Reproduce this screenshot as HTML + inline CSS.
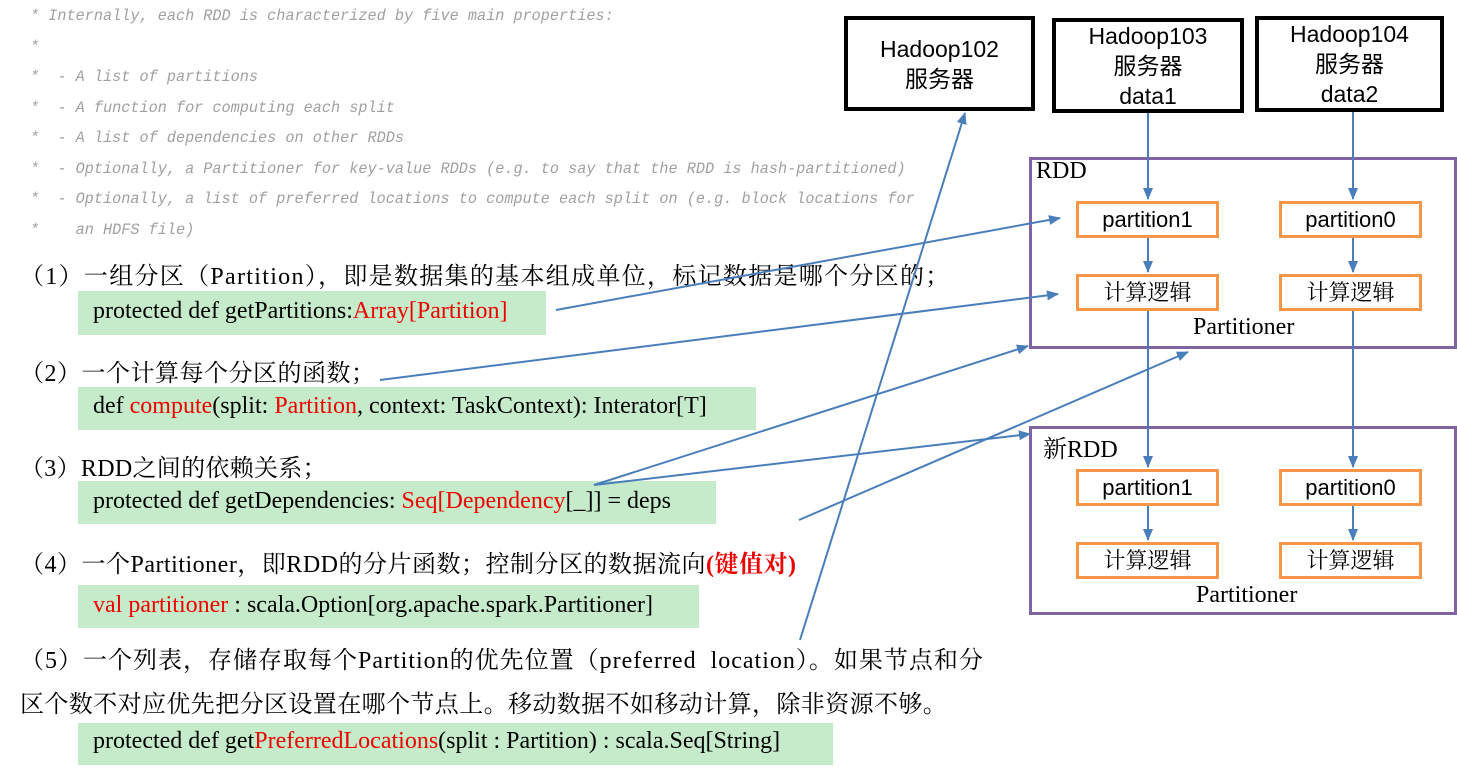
<!DOCTYPE html>
<html><head><meta charset="utf-8">
<style>
body{margin:0;width:1457px;height:772px;background:#fff;position:relative;overflow:hidden;font-family:"Liberation Serif","Noto Serif CJK SC",serif;}
.c{position:absolute;left:30px;font-family:"Liberation Mono","Noto Sans CJK SC",monospace;font-style:italic;font-size:16px;color:#a0a0a0;white-space:pre;transform:scaleX(0.95);transform-origin:left;}
.t{position:absolute;font-size:24px;color:#000;white-space:nowrap;transform-origin:left;}
.g{position:absolute;background:#c6ebca;}
.r{color:#e00;}
.box{position:absolute;box-sizing:border-box;border:4px solid #000;font-family:"Liberation Sans","Noto Sans CJK SC",sans-serif;font-size:23px;text-align:center;line-height:30px;display:flex;flex-direction:column;justify-content:center;}
.pb{position:absolute;box-sizing:border-box;border:3px solid #8064a2;}
.ob{position:absolute;box-sizing:border-box;border:3px solid #f79646;width:143px;height:37px;text-align:center;font-size:22px;line-height:31px;}
.s{font-family:"Liberation Sans",sans-serif;}
.k{font-family:"Liberation Serif","Noto Serif CJK SC",serif;}
</style></head><body>
<div class="c" style="top:7px">* Internally, each RDD is characterized by five main properties:</div>
<div class="c" style="top:38px">*</div>
<div class="c" style="top:68px">*  - A list of partitions</div>
<div class="c" style="top:99px">*  - A function for computing each split</div>
<div class="c" style="top:129px">*  - A list of dependencies on other RDDs</div>
<div class="c" style="top:160px">*  - Optionally, a Partitioner for key-value RDDs (e.g. to say that the RDD is hash-partitioned)</div>
<div class="c" style="top:190px">*  - Optionally, a list of preferred locations to compute each split on (e.g. block locations for</div>
<div class="c" style="top:221px">*    an HDFS file)</div>

<div class="g" style="left:78px;top:291px;width:468px;height:44px"></div>
<div class="g" style="left:78px;top:387px;width:678px;height:43px"></div>
<div class="g" style="left:78px;top:481px;width:638px;height:43px"></div>
<div class="g" style="left:78px;top:585px;width:621px;height:43px"></div>
<div class="g" style="left:78px;top:723px;width:755px;height:42px"></div>

<div class="t" style="left:20px;top:256px;letter-spacing:1.3px">（1）一组分区（Partition），即是数据集的基本组成单位，标记数据是哪个分区的；</div>
<div class="t" style="left:93px;top:298px">protected def getPartitions:<span class="r">Array[Partition]</span></div>
<div class="t" style="left:20px;top:353px;letter-spacing:0.5px">（2）一个计算每个分区的函数；</div>
<div class="t" style="left:93px;top:393px">def <span class="r">compute</span>(split: <span class="r">Partition</span>, context: TaskContext): Interator[T]</div>
<div class="t" style="left:20px;top:448px;letter-spacing:0.3px">（3）RDD之间的依赖关系；</div>
<div class="t" style="left:93px;top:488px">protected def getDependencies: <span class="r">Seq[Dependency</span>[_]] = deps</div>
<div class="t" style="left:20px;top:544px;letter-spacing:0.5px">（4）一个Partitioner，即RDD的分片函数；控制分区的数据流向<b class="r">(键值对)</b></div>
<div class="t" style="left:93px;top:592px"><span class="r">val partitioner</span> : scala.Option[org.apache.spark.Partitioner]</div>
<div class="t" style="left:20px;top:640px;letter-spacing:1px">（5）一个列表，存储存取每个Partition的优先位置（preferred&nbsp; location）。如果节点和分</div>
<div class="t" style="left:20px;top:684px;letter-spacing:0.4px">区个数不对应优先把分区设置在哪个节点上。移动数据不如移动计算，除非资源不够。</div>
<div class="t" style="left:93px;top:728px">protected def get<span class="r">PreferredLocations</span>(split : Partition) : scala.Seq[String]</div>

<div class="box" style="left:844px;top:16px;width:191px;height:95px">Hadoop102<br>服务器</div>
<div class="box" style="left:1052px;top:18px;width:192px;height:95px">Hadoop103<br>服务器<br>data1</div>
<div class="box" style="left:1255px;top:16px;width:189px;height:96px">Hadoop104<br>服务器<br>data2</div>

<div class="pb" style="left:1029px;top:157px;width:428px;height:192px"></div>
<div class="t" style="left:1036px;top:158px">RDD</div>
<div class="ob s" style="left:1076px;top:201px">partition1</div>
<div class="ob s" style="left:1279px;top:201px">partition0</div>
<div class="ob k" style="left:1076px;top:274px">计算逻辑</div>
<div class="ob k" style="left:1279px;top:274px">计算逻辑</div>
<div class="t" style="left:1193px;top:314px">Partitioner</div>

<div class="pb" style="left:1029px;top:426px;width:428px;height:189px"></div>
<div class="t" style="left:1043px;top:429px">新RDD</div>
<div class="ob s" style="left:1076px;top:469px">partition1</div>
<div class="ob s" style="left:1279px;top:469px">partition0</div>
<div class="ob k" style="left:1076px;top:542px">计算逻辑</div>
<div class="ob k" style="left:1279px;top:542px">计算逻辑</div>
<div class="t" style="left:1196px;top:582px">Partitioner</div>

<svg style="position:absolute;left:0;top:0" width="1457" height="772">
<defs><marker id="a" markerWidth="12" markerHeight="10" refX="11" refY="5" orient="auto" markerUnits="userSpaceOnUse"><path d="M0,0 L12,5 L0,10 z" fill="#4a7ebb"/></marker></defs>
<g stroke="#4a7ebb" stroke-width="2" fill="none" marker-end="url(#a)">
<line x1="1148" y1="113" x2="1148" y2="199"/>
<line x1="1353" y1="112" x2="1353" y2="199"/>
<line x1="1148" y1="238" x2="1148" y2="272"/>
<line x1="1353" y1="238" x2="1353" y2="272"/>
<line x1="1148" y1="311" x2="1148" y2="467"/>
<line x1="1353" y1="311" x2="1353" y2="467"/>
<line x1="1148" y1="506" x2="1148" y2="540"/>
<line x1="1353" y1="506" x2="1353" y2="540"/>
<line x1="556" y1="310" x2="1060" y2="218"/>
<line x1="380" y1="380" x2="1058" y2="294"/>
<line x1="594" y1="485" x2="1028" y2="346"/>
<line x1="594" y1="485" x2="1030" y2="434"/>
<line x1="799" y1="520" x2="1188" y2="352"/>
<line x1="800" y1="640" x2="965" y2="113"/>
</g></svg>
</body></html>
